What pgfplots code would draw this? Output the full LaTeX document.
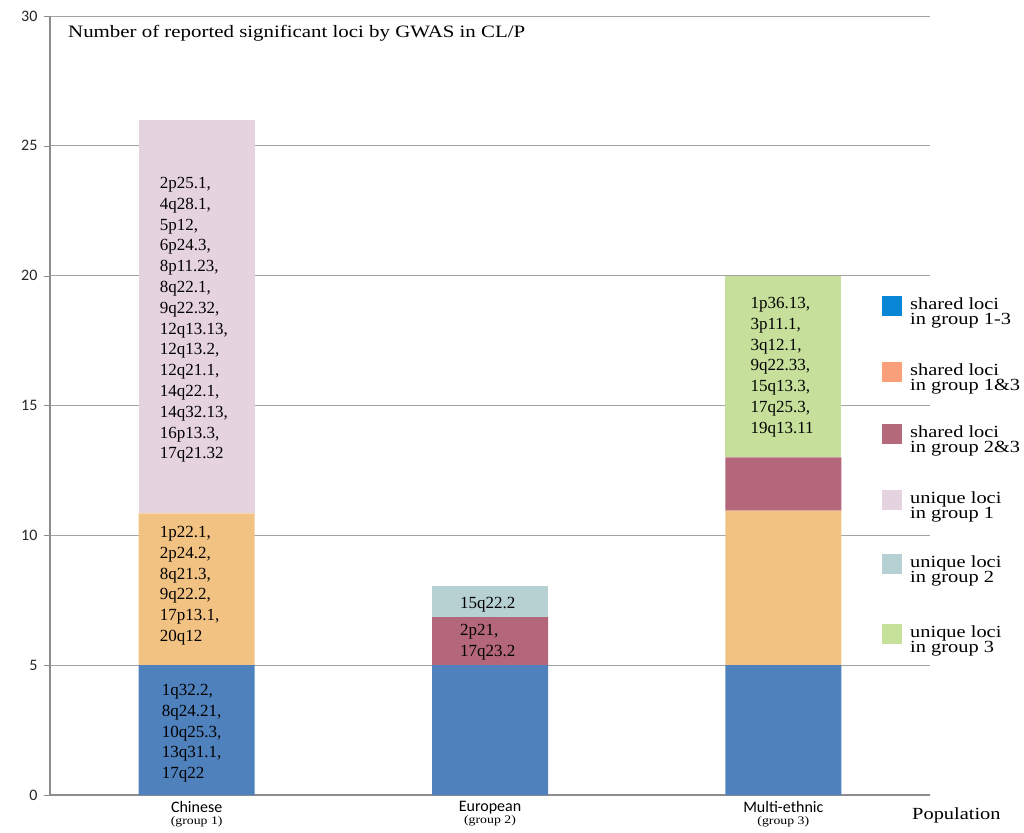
\documentclass[border=0pt]{standalone}
\usepackage{pgfplots}
\pgfplotsset{compat=1.18}
\usepackage{fontspec}
\setmainfont{Liberation Serif}
\newfontfamily\wideserif{Liberation Serif}[FakeStretch=1.2]
\newfontfamily\calib{Carlito}
\definecolor{cblue}{HTML}{4F81BD}
\definecolor{corange}{HTML}{F2C283}
\definecolor{cred}{HTML}{B4677A}
\definecolor{cpink}{HTML}{E6D3E0}
\definecolor{cteal}{HTML}{B7D1D3}
\definecolor{cgreen}{HTML}{C6E09C}
\definecolor{lblue}{HTML}{0A86D6}
\definecolor{lorange}{HTML}{F9A07A}
\definecolor{lred}{HTML}{B46A7A}
\definecolor{lpink}{HTML}{E6D3E0}
\definecolor{lteal}{HTML}{B5D1D4}
\definecolor{lgreen}{HTML}{C8E19A}
\definecolor{axgray}{HTML}{8C8C8C}
\newcommand{\barfont}{\fontsize{17}{20.8}\selectfont}
\newcommand{\catlab}[2]{\calib\fontsize{16}{16}\selectfont #1\\[0pt]\wideserif\fontsize{11.5}{11.5}\selectfont (group #2)}
\begin{document}
\begin{tikzpicture}[x=1pt,y=1pt]
\useasboundingbox (0,0) rectangle (1024,832);
\begin{axis}[
  at={(50pt,37pt)}, anchor=south west,
  scale only axis, width=880pt, height=779pt,
  ybar stacked, bar width=116pt,
  xmin=-0.5, xmax=2.5, ymin=0, ymax=30,
  ytick={0,5,...,30},
  xtick={0,1,2},
  xticklabels={{\catlab{Chinese}{1}},{\catlab{European}{2}},{\catlab{Multi-ethnic}{3}}},
  xticklabel style={align=center, yshift=3pt},
  x tick style={draw=none},
  extra x ticks={-0.5,0.5,1.5,2.5},
  extra x tick labels={},
  extra x tick style={tick style={draw=axgray}, grid=none, tick align=outside},
  major tick length=6pt,
  ymajorgrids, grid style={draw=axgray!80, line width=0.9pt},
  axis lines*=left,
  axis line style={draw=axgray, line width=1.2pt},
  y tick style={draw=axgray},
  tick align=outside,
  ytick pos=left,
  /pgf/number format/assume math mode=true,
  yticklabel style={font=\calib\fontsize{16}{16}\selectfont, text=black!85, xshift=-3pt},
  enlarge x limits=false,
  clip=false,
]
\addplot[fill=cblue, draw=none] coordinates {(0,5) (1,5) (2,5)};
\addplot[fill=corange, draw=none] coordinates {(0,5.85) (1,0) (2,5.95)};
\addplot[fill=cred, draw=none] coordinates {(0,0) (1,1.85) (2,2.05)};
\addplot[fill=cpink, draw=none] coordinates {(0,15.15) (1,0) (2,0)};
\addplot[fill=cteal, draw=none] coordinates {(0,0) (1,1.2) (2,0)};
\addplot[fill=cgreen, draw=none] coordinates {(0,0) (1,0) (2,7)};
\coordinate (t1) at (axis cs:0,23.8);
\coordinate (t2) at (axis cs:0,10.36);
\coordinate (t3) at (axis cs:0,4.27);
\coordinate (t4) at (axis cs:1,7.62);
\coordinate (t5) at (axis cs:1,6.58);
\coordinate (t6) at (axis cs:2,19.18);
\end{axis}
\begin{scope}[every node/.style={anchor=north west, align=left, inner sep=0pt, font=\barfont}]
\node[xshift=-37pt] at (t1)
 {2p25.1,\\4q28.1,\\5p12,\\6p24.3,\\8p11.23,\\8q22.1,\\9q22.32,\\12q13.13,\\12q13.2,\\12q21.1,\\14q22.1,\\14q32.13,\\16p13.3,\\17q21.32};
\node[xshift=-37pt] at (t2)
 {1p22.1,\\2p24.2,\\8q21.3,\\9q22.2,\\17p13.1,\\20q12};
\node[xshift=-35pt] at (t3)
 {1q32.2,\\8q24.21,\\10q25.3,\\13q31.1,\\17q22};
\node[xshift=-30pt] at (t4)
 {15q22.2};
\node[xshift=-30pt] at (t5)
 {2p21,\\17q23.2};
\node[xshift=-33pt] at (t6)
 {1p36.13,\\3p11.1,\\3q12.1,\\9q22.33,\\15q13.3,\\17q25.3,\\19q13.11};
\end{scope}
% title
\node[anchor=base west, inner sep=0pt, font=\wideserif\fontsize{17.4}{17.4}\selectfont] at (68,794) {Number of reported significant loci by GWAS in CL/P};
% axis name
\node[anchor=base west, inner sep=0pt, font=\wideserif\fontsize{17}{17}\selectfont] at (912,13) {Population};
% legend
\foreach \c/\yc/\la/\lb in {lblue/306/shared loci/in group 1-3,
                           lorange/372/shared loci/in group 1\&3,
                           lred/434/shared loci/in group 2\&3,
                           lpink/500/unique loci/in group 1,
                           lteal/564/unique loci/in group 2,
                           lgreen/634/unique loci/in group 3}{
  \fill[\c] (882,832-\yc-10) rectangle (902,832-\yc+10);
  \node[anchor=west, align=left, inner sep=0pt, font=\wideserif\fontsize{17}{15}\selectfont] at (910,832-\yc-7) {\la\\\lb};
}
\end{tikzpicture}
\end{document}
